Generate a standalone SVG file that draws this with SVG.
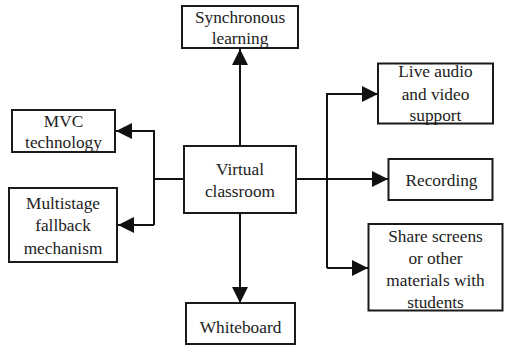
<svg xmlns="http://www.w3.org/2000/svg" width="505" height="349" viewBox="0 0 505 349">
  <style>
    .box { fill: #fff; stroke: #1a1a1a; stroke-width: 2; }
    .lbl { font-size: 17.3px; fill: #222; text-anchor: middle; }
    .wire { fill: none; stroke: #111; stroke-width: 2; }
  </style>
  <defs>
    <marker id="arrow" markerUnits="userSpaceOnUse" markerWidth="16" markerHeight="16" viewBox="0 0 16 16" refX="16" refY="8" orient="auto">
      <path d="M0,0 L16,8 L0,16 Z" fill="#111"/>
    </marker>
  </defs>

  <!-- connectors -->
  <g id="connectors">
    <path class="wire" d="M240,146 V49" marker-end="url(#arrow)"/>
    <path class="wire" d="M240,213 V303" marker-end="url(#arrow)"/>
    <path class="wire" d="M184,179 H154"/>
    <path class="wire" d="M154,225 V131 H116" marker-end="url(#arrow)"/>
    <path class="wire" d="M154,225 H118" marker-end="url(#arrow)"/>
    <path class="wire" d="M296,179 H388" marker-end="url(#arrow)"/>
    <path class="wire" d="M327,268 V94 H378" marker-end="url(#arrow)"/>
    <path class="wire" d="M327,268 H368" marker-end="url(#arrow)"/>
  </g>

  <g font-family="Liberation Serif, Times New Roman, DejaVu Serif, serif">
  <g id="synchronous">
    <rect class="box" x="182" y="6" width="116" height="42"/>
    <text class="lbl" x="240" y="23">Synchronous</text>
    <text class="lbl" x="240" y="43.5">learning</text>
  </g>

  <g id="mvc">
    <rect class="box" x="12" y="110" width="103" height="42"/>
    <text class="lbl" x="63.5" y="126.5">MVC</text>
    <text class="lbl" x="63.5" y="147.5">technology</text>
  </g>

  <g id="fallback">
    <rect class="box" x="9" y="188" width="108" height="74"/>
    <text class="lbl" x="63" y="208.5">Multistage</text>
    <text class="lbl" x="63" y="230.5">fallback</text>
    <text class="lbl" x="63" y="253.5">mechanism</text>
  </g>

  <g id="virtual-classroom">
    <rect class="box" x="184" y="146" width="112" height="67"/>
    <text class="lbl" x="240" y="175">Virtual</text>
    <text class="lbl" x="240" y="196.5">classroom</text>
  </g>

  <g id="whiteboard">
    <rect class="box" x="186" y="303" width="109" height="41"/>
    <text class="lbl" x="240.5" y="332.5">Whiteboard</text>
  </g>

  <g id="live-av">
    <rect class="box" x="378" y="63.5" width="115" height="60"/>
    <text class="lbl" x="435.5" y="77">Live audio</text>
    <text class="lbl" x="435.5" y="99.5">and video</text>
    <text class="lbl" x="435.5" y="121">support</text>
  </g>

  <g id="recording">
    <rect class="box" x="388.5" y="159" width="104" height="41"/>
    <text class="lbl" x="441.5" y="185.5">Recording</text>
  </g>

  <g id="share">
    <rect class="box" x="368.5" y="224" width="134" height="86.5"/>
    <text class="lbl" x="435.5" y="241.5">Share screens</text>
    <text class="lbl" x="435.5" y="264">or other</text>
    <text class="lbl" x="435.5" y="286">materials with</text>
    <text class="lbl" x="435.5" y="307.5">students</text>
  </g>
  </g>
</svg>
